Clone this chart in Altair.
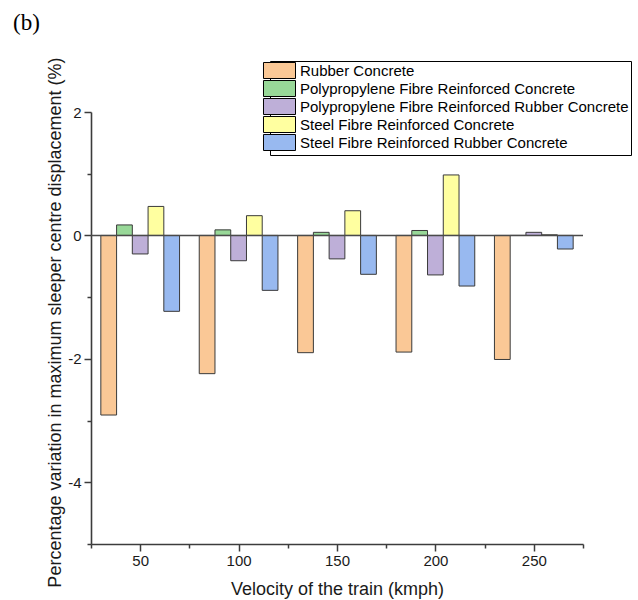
import altair as alt
import pandas as pd

# Train speeds (kmph) and the five concrete mixes
speeds = [50, 100, 150, 200, 250]
mixes = [
    "Rubber Concrete",
    "Polypropylene Fibre Reinforced Concrete",
    "Polypropylene Fibre Reinforced Rubber Concrete",
    "Steel Fibre Reinforced Concrete",
    "Steel Fibre Reinforced Rubber Concrete",
]
colors = ["#FAC896", "#98D898", "#BEAFD8", "#FFFFA0", "#98B9F0"]

# Percentage variation in maximum sleeper centre displacement
rubber = [-2.91, -2.24, -1.90, -1.89, -2.01]
pp_fibre = [0.17, 0.09, 0.05, 0.08, 0.00]
pp_fibre_rubber = [-0.30, -0.41, -0.38, -0.64, 0.05]
steel_fibre = [0.47, 0.32, 0.40, 0.98, 0.01]
steel_fibre_rubber = [-1.23, -0.89, -0.63, -0.82, -0.22]

series = [rubber, pp_fibre, pp_fibre_rubber, steel_fibre, steel_fibre_rubber]
bar_w = 8  # bar width in kmph units; five bars side by side per speed

rows = []
for i, (mix, vals) in enumerate(zip(mixes, series)):
    offset = (i - 2) * bar_w
    for s, v in zip(speeds, vals):
        rows.append({
            "mix": mix,
            "x0": s + offset - bar_w / 2,
            "x1": s + offset + bar_w / 2,
            "value": v,
            "zero": 0.0,
        })
df = pd.DataFrame(rows)

axis_col = "#3c3c3c"
font = "Liberation Sans"

x_scale = alt.Scale(domain=[25, 275], nice=False, zero=False)
y_scale = alt.Scale(domain=[-5, 2], nice=False)

# legend swatch: a 32 x 16 px rectangle drawn from a 14 px symbol size
swatch = "M-2.286,-1.143H2.286V1.143H-2.286Z"

bars = alt.Chart(df).mark_rect(stroke="#3a3a3a", strokeWidth=1).encode(
    x=alt.X(
        "x0:Q",
        scale=x_scale,
        axis=alt.Axis(
            values=list(range(25, 276, 25)),
            format="d",
            labelExpr="datum.value % 50 === 0 ? datum.label : ''",
            tickSize={"condition": {"test": "datum.value % 50 !== 0", "value": 4}, "value": 7},
            title="Velocity of the train (kmph)",
            titleFontSize=18,
            titleFontWeight="normal",
            titleX=246,
            titleY=50,
            titleBaseline="alphabetic",
            titleAlign="center",
            labelFontSize=15,
            labelPadding=2,
            grid=False,
        ),
    ),
    x2="x1:Q",
    y=alt.Y(
        "value:Q",
        scale=y_scale,
        axis=alt.Axis(
            values=list(range(-5, 3)),
            labelExpr="datum.value % 2 === 0 ? replace(format(datum.value, 'd'), '\u2212', '-') : ''",
            tickSize={"condition": {"test": "datum.value % 2 !== 0", "value": 4}, "value": 7},
            title="Percentage variation in maximum sleeper centre displacement (%)",
            titleFontSize=18,
            titleFontWeight="normal",
            titleAngle=270,
            titleX=-31,
            titleY=210,
            titleBaseline="alphabetic",
            titleAlign="center",
            labelFontSize=15,
            labelPadding=3,
            grid=False,
        ),
    ),
    y2="zero:Q",
    color=alt.Color(
        "mix:N",
        scale=alt.Scale(domain=mixes, range=colors),
        legend=alt.Legend(
            title=None,
            orient="none",
            legendX=179,
            legendY=-51,
            padding=2,
            strokeColor="black",
            fillColor="white",
            symbolType=swatch,
            symbolSize=196,
            symbolStrokeColor="black",
            symbolStrokeWidth=1,
            symbolOpacity=1,
            labelFontSize=15,
            labelFont=font,
            labelColor="black",
            labelOffset=13,
            labelLimit=500,
            rowPadding=-10,
        ),
    ),
)

baseline = alt.Chart(pd.DataFrame({"y": [0.0]})).mark_rule(
    color="#4a4a4a", strokeWidth=1.5
).encode(y=alt.Y("y:Q", scale=y_scale))

chart = (
    alt.layer(bars, baseline)
    .properties(
        width=492,
        height=432,
        autosize=alt.AutoSizeParams(type="none"),
        padding={"left": 91, "top": 112, "right": 55, "bottom": 56},
        title=alt.TitleParams(
            "(b)",
            anchor="start",
            frame="group",
            font="Liberation Serif",
            fontSize=23,
            fontWeight="normal",
            color="black",
            baseline="alphabetic",
            offset=0,
            dx=-78,
            dy=-4,
        ),
    )
    .configure(font=font)
    .configure_view(stroke=None)
    .configure_axis(
        domainColor=axis_col,
        domainWidth=1.6,
        tickColor=axis_col,
        tickWidth=1.5,
        labelColor="#1a1a1a",
        titleColor="#1a1a1a",
        labelFont=font,
        titleFont=font,
    )
)

chart.save("out.html", embed_options={"renderer": "svg", "actions": False})
